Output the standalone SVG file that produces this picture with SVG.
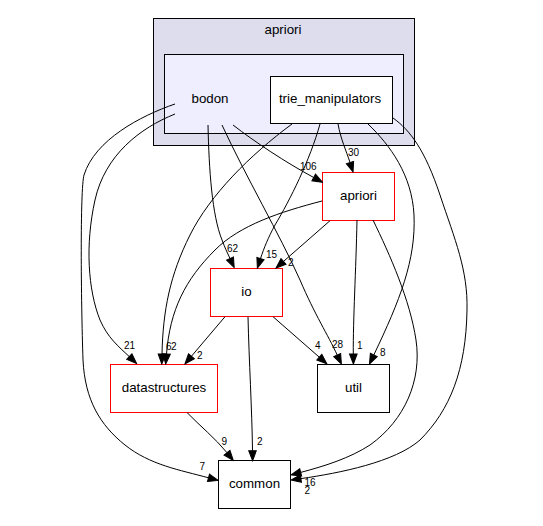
<svg xmlns="http://www.w3.org/2000/svg" width="543" height="526" viewBox="0 0 543 526">
<style>
.nl{font-family:"Liberation Sans",Arial,sans-serif;font-size:13.33px;fill:#000;text-anchor:middle}
.el{font-family:"Liberation Sans",Arial,sans-serif;font-size:10px;fill:#000}
.e{fill:none;stroke:#000;stroke-width:1}
.n{fill:#fff;stroke:#000;stroke-width:1}
.r{fill:#fff;stroke:#ff0000;stroke-width:1}
</style>
<defs>
<marker id="arr" markerUnits="userSpaceOnUse" markerWidth="12" markerHeight="10" viewBox="0 0 12 10" refX="1" refY="5" orient="auto">
<path d="M1,1.2 L11,5 L1,8.8 z" fill="#000" stroke="#000" stroke-width="1"/>
</marker>
</defs>
<rect width="543" height="526" fill="#fff"/>
<g id="cluster_apriori">
<rect x="153.5" y="18.5" width="261" height="127" fill="#ddddee" stroke="#000"/>
<text class="nl" x="283" y="34">apriori</text>
</g>
<g id="cluster_bodon">
<rect x="164.5" y="54.5" width="239" height="79" fill="#eeeeff" stroke="#000"/>
<text class="nl" x="210" y="103">bodon</text>
</g>
<g id="node_trie_manipulators">
<rect class="n" x="270.5" y="76.5" width="122" height="47"/>
<text class="nl" x="330" y="103">trie_manipulators</text>
</g>
<g id="node_apriori">
<rect class="r" x="322.5" y="172.5" width="72" height="48"/>
<text class="nl" x="358.5" y="200">apriori</text>
</g>
<g id="node_io">
<rect class="r" x="210.5" y="268.5" width="72" height="48"/>
<text class="nl" x="246.5" y="296">io</text>
</g>
<g id="node_datastructures">
<rect class="r" x="110.5" y="364.5" width="107" height="48"/>
<text class="nl" x="164" y="392">datastructures</text>
</g>
<g id="node_util">
<rect class="n" x="317.5" y="364.5" width="72" height="48"/>
<text class="nl" x="353.5" y="392">util</text>
</g>
<g id="node_common">
<rect class="n" x="218.5" y="460.5" width="72" height="48"/>
<text class="nl" x="254.5" y="488">common</text>
</g>
<g id="connectors">
<g id="e_bodon_common"><path class="e" marker-end="url(#arr)" d="M175,104 C140,116 95,140 84,175 C80,190 81,300 83,360 C85,400 100,425 125,445 C150,465 180,470 208.5,477.8"/><text class="el" x="199.5" y="470">7</text></g>
<g id="e_bodon_datastructures"><path class="e" marker-end="url(#arr)" d="M175,114 C140,128 105,155 95,200 C85,245 88,290 100,320 C108,338 118,346 129.3,356.6"/><text class="el" x="124" y="349">21</text></g>
<g id="e_bodon_io"><path class="e" marker-end="url(#arr)" d="M208,125 C209,170 212,215 222,240 C225,248 227,252 230,258.5"/><text class="el" x="227" y="252">62</text></g>
<g id="e_bodon_util"><path class="e" marker-end="url(#arr)" d="M222,125 C245,175 280,235 300,280 C315,315 328,335 337.2,355"/><text class="el" x="332" y="348">28</text></g>
<g id="e_bodon_apriori"><path class="e" marker-end="url(#arr)" d="M233,125 C255,142 285,162 313.7,177.5"/><text class="el" x="300" y="170">106</text></g>
<g id="e_trie_datastructures"><path class="e" marker-end="url(#arr)" d="M292,124 C250,155 210,195 190,235 C170,275 163,310 162,354"/><text class="el" x="166" y="350">6</text></g>
<g id="e_apriori_datastructures"><path class="e" marker-end="url(#arr)" d="M322,201 C280,212 240,225 215,250 C185,280 170,310 166.5,354"/><text class="el" x="171" y="350">2</text></g>
<g id="e_io_datastructures"><path class="e" marker-end="url(#arr)" d="M225,316.7 L191.4,356.3"/><text class="el" x="197" y="359">2</text></g>
<g id="e_trie_io"><path class="e" marker-end="url(#arr)" d="M320,124 C310,160 290,200 275,225 C268,238 264,248 260.5,258.6"/><text class="el" x="266" y="258">15</text></g>
<g id="e_trie_apriori"><path class="e" marker-end="url(#arr)" d="M338,124 C341,140 346,150 350,162.5"/><text class="el" x="348" y="156">30</text></g>
<g id="e_trie_util"><path class="e" marker-end="url(#arr)" d="M368,124 C390,145 412,175 414,215 C416,260 400,300 373.8,355"/><text class="el" x="380" y="356">8</text></g>
<g id="e_trie_common"><path class="e" marker-end="url(#arr)" d="M393,118 C410,130 425,150 440,195 C455,240 468,270 467,310 C466,370 450,410 420,440 C395,462 340,473 300.9,478.6"/><text class="el" x="304.5" y="494">2</text></g>
<g id="e_apriori_common"><path class="e" marker-end="url(#arr)" d="M373,220 C390,255 410,300 416,340 C422,380 405,420 370,445 C350,458 325,466 300.7,472.4"/><text class="el" x="304.5" y="486">16</text></g>
<g id="e_apriori_io"><path class="e" marker-end="url(#arr)" d="M330,220.7 L283.5,261.4"/><text class="el" x="288" y="266">2</text></g>
<g id="e_apriori_util"><path class="e" marker-end="url(#arr)" d="M357,220 C356,270 353,320 353.3,354"/><text class="el" x="357" y="349">1</text></g>
<g id="e_io_util"><path class="e" marker-end="url(#arr)" d="M273,316.7 L319.3,357.2"/><text class="el" x="315" y="349">4</text></g>
<g id="e_io_common"><path class="e" marker-end="url(#arr)" d="M248,316.7 C249,360 252,410 252.5,450.7"/><text class="el" x="257" y="445">2</text></g>
<g id="e_datastructures_common"><path class="e" marker-end="url(#arr)" d="M187,412.5 C200,426 215,438 227,452.7"/><text class="el" x="221.5" y="445">9</text></g>
</g>
</svg>
